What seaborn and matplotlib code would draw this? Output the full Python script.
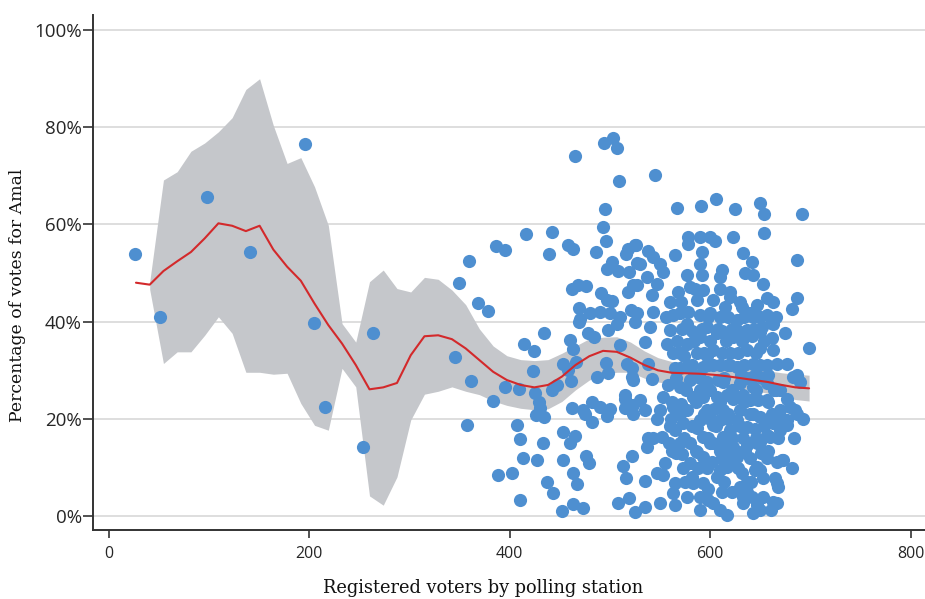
import matplotlib
matplotlib.use("Agg")
import numpy as np
import matplotlib.pyplot as plt
import seaborn as sns

sns.set_theme(style="white")

# registered voters (x) and % of votes for Amal (y)
voters = [
    26.4, 51.7, 98.5, 140.8, 195.7, 204.6, 215.9, 253.8, 263.8, 345.6,
    465.3, 494.2, 502.8, 506.8, 509.4, 495.5, 493.5, 495.8, 518.4, 525.1,
    516.1, 527.4, 485.9, 502.4, 496.9, 508.4, 519.4, 523.4, 518.4, 416.4,
    442.6, 386.5, 395.4, 359.8, 349.9, 368.2, 378.2, 458.0, 463.6, 439.6,
    462.0, 468.5, 475.9, 491.2, 496.9, 502.4, 468.9, 480.2, 490.2, 500.2,
    510.1, 521.1, 470.2,
    434.6, 414.7, 424.4, 460.3, 463.6, 469.6, 478.5, 484.2, 498.5, 506.8,
    510.1, 361.5, 395.7, 409.7, 383.8, 423.7, 453.0, 466.2, 458.6, 460.9,
    495.8, 486.9, 498.5, 521.8, 522.8, 447.0, 442.0, 425.4, 429.6, 430.3,
    426.1, 434.3, 462.0, 473.5, 481.9, 490.2, 500.2, 496.9, 481.9, 475.2,
    515.1, 523.4, 523.4, 357.8, 407.7, 410.4, 433.6, 453.0, 465.3, 460.3,
    413.7, 427.7, 453.6, 476.2, 479.2, 388.8, 402.7, 463.6, 467.0, 437.6,
    443.0, 410.4, 452.0, 463.0, 473.5, 521.8, 513.4, 516.1, 507.8, 519.4,
    525.1,
    545.0, 567.3, 590.9, 605.9, 624.8, 649.7, 653.7, 691.9, 653.7, 623.1,
    578.2, 589.9, 599.9, 604.9, 578.2, 526.1, 538.4, 543.3, 565.0, 591.6,
    633.1, 641.5, 686.3, 530.1, 550.0, 589.9, 611.5, 576.6, 591.6, 609.9,
    634.8, 643.1, 536.8, 553.3, 546.7, 526.8, 653.0, 656.4, 663.0, 686.3,
    681.9, 560.0, 541.7, 568.3, 580.0,
    661.4, 674.7, 698.6,
    677.0, 686.3, 689.6, 684.6, 692.3, 684.0, 681.4, 671.4, 668.0, 666.4,
    660.4, 643.1, 646.5, 653.0, 631.5, 633.1, 641.5, 644.8, 653.0, 664.7,
    656.4, 619.8, 623.1, 669.7, 676.4, 669.7, 659.7, 646.5, 634.8, 626.5,
    535.1, 550.0, 565.0, 535.1, 546.7, 553.3, 565.0, 563.3, 538.4, 536.8,
    543.3, 565.0, 573.3, 581.6, 576.6, 589.9, 598.2, 609.9, 617.1, 606.6,
    598.2, 611.5, 601.6, 609.9, 629.8, 636.5, 663.0, 666.4, 649.7, 666.4,
    646.5, 673.0,
    515.1, 521.8, 541.7, 535.1, 538.4, 516.8, 540.0, 525.1, 563.3, 515.1,
    530.1, 546.7, 535.1, 553.3, 550.0, 563.3, 551.7, 570.0, 571.7, 586.6,
    579.9, 599.9, 613.2, 623.1, 636.5, 649.7, 656.4, 676.4, 663.0, 686.3,
    679.7, 669.7, 676.4, 669.7, 682.9, 666.4, 663.0, 661.4, 663.0, 656.4,
    649.7, 649.7, 656.4, 656.4, 656.4, 649.7, 636.5, 619.8, 603.2, 586.6,
    573.3, 576.6, 583.2, 570.0, 565.0, 563.3, 556.7, 560.0, 576.6, 578.0,
    589.9, 609.9, 626.5, 643.1, 636.5, 623.1, 606.6, 589.9, 576.6, 586.6,
    603.2, 619.8, 636.5, 643.1, 626.5, 609.9, 593.2, 576.6, 579.9, 596.6,
    613.2, 629.8, 643.1, 639.8, 623.1, 606.6, 593.2, 596.6, 613.2, 629.8,
    643.1, 589.9, 609.9, 626.5, 593.2, 609.9, 593.2, 617.1, 583.2, 593.2,
    589.9, 603.2, 633.1, 649.7, 636.5,
    586.6, 603.2, 619.8, 629.8, 639.8, 569.9, 543.3, 526.8, 584.9, 609.9,
    619.8, 593.2,
    558.0, 571.0, 584.0, 597.0, 608.0, 618.0, 631.0, 645.0, 658.0, 567.0,
    582.0, 597.0, 612.0, 628.0, 642.0, 652.0, 566.0, 580.0, 597.0, 612.0,
    628.0, 640.0, 651.0, 561.0, 600.0, 618.0, 633.0, 645.0, 660.0, 574.0,
    590.0, 604.0, 617.0, 633.0, 648.0, 664.0, 603.0, 617.0, 632.0, 641.0,
    600.0, 615.0, 632.0, 647.0, 571.0, 556.0, 559.0, 555.0, 575.0, 622.0,
    614.0, 588.0, 603.0, 640.0, 570.0,
    562.0, 586.0, 610.0, 634.0, 658.0, 574.0, 598.0, 622.0, 646.0, 668.0,
    560.0, 582.0, 606.0, 630.0, 654.0, 570.0, 594.0, 618.0, 640.0, 662.0,
    562.0, 586.0, 610.0, 634.0, 658.0, 576.0, 600.0, 622.0, 646.0, 666.0,
    566.0, 590.0, 614.0, 636.0, 652.0, 582.0, 598.0, 620.0, 634.0, 650.0,
    570.0, 594.0, 612.0, 628.0, 646.0, 584.0, 600.0, 616.0, 632.0, 654.0,
    572.0, 592.0, 608.0, 622.0, 644.0, 598.0, 618.0, 634.0, 650.0, 666.0,
]
amal_pct = [
    53.9, 40.9, 65.6, 54.3, 76.5, 39.8, 22.5, 14.3, 37.7, 32.8,
    74.0, 76.7, 77.8, 75.6, 68.9, 63.2, 59.5, 56.6, 55.0, 55.7,
    54.0, 52.1, 54.3, 52.3, 50.8, 50.4, 50.2, 47.5, 46.0, 58.0,
    58.4, 55.6, 54.8, 52.5, 47.9, 43.9, 42.2, 55.7, 55.0, 53.9,
    46.8, 47.5, 47.4, 45.9, 44.4, 44.3, 42.8, 41.7, 42.0, 41.7,
    41.0, 42.4, 40.5,
    37.6, 35.5, 34.0, 36.3, 34.3, 40.0, 37.7, 36.9, 38.3, 39.6,
    35.2, 27.8, 26.6, 26.1, 23.7, 29.8, 31.3, 31.7, 30.0, 27.8,
    31.5, 28.7, 29.5, 30.4, 28.0, 27.0, 25.9, 25.3, 23.5, 22.2,
    20.8, 20.5, 22.2, 21.8, 23.5, 22.5, 22.0, 20.6, 19.4, 21.1,
    24.2, 22.9, 21.1, 18.7, 18.7, 15.9, 15.0, 17.4, 16.5, 15.1,
    12.0, 11.6, 11.6, 12.4, 10.9, 8.6, 9.0, 9.0, 6.6, 7.1,
    4.8, 3.3, 1.1, 2.5, 1.8, 12.4, 10.3, 7.8, 2.8, 3.8,
    0.8,
    70.2, 63.4, 63.8, 65.1, 63.2, 64.3, 62.1, 62.1, 58.2, 57.3,
    57.3, 57.4, 57.4, 56.6, 56.0, 55.7, 54.5, 53.3, 53.7, 54.3,
    54.1, 52.3, 52.6, 51.9, 51.9, 51.9, 50.6, 49.6, 49.6, 49.2,
    49.9, 49.6, 49.1, 50.2, 47.8, 47.5, 47.7, 44.8, 44.1, 44.8,
    42.5, 44.1, 45.4, 46.1, 47.1,
    39.8, 37.6, 34.6,
    31.4, 29.0, 27.6, 21.8, 19.9, 16.0, 9.9, 11.6, 6.0, 2.8,
    1.3, 0.6, 2.3, 4.0, 5.7, 4.0, 4.0, 9.5, 7.8, 7.8,
    11.9, 11.6, 12.9, 20.5, 19.8, 17.7, 16.3, 15.0, 13.6, 12.2,
    2.0, 2.8, 2.3, 7.3, 9.0, 8.5, 6.8, 4.7, 16.0, 14.3,
    16.0, 17.7, 9.9, 8.1, 4.0, 1.3, 3.3, 1.3, 0.2, 8.1,
    5.7, 5.1, 11.2, 9.5, 6.1, 5.1, 3.0, 6.8, 9.5, 11.2,
    10.2, 11.6,
    22.2, 28.7, 28.3, 35.9, 31.4, 31.4, 38.9, 40.0, 41.3, 24.9,
    23.9, 20.1, 21.8, 24.6, 21.8, 22.5, 16.3, 15.0, 12.9, 13.3,
    15.0, 15.0, 16.3, 14.3, 14.6, 15.3, 16.7, 18.7, 19.1, 21.1,
    22.5, 21.8, 24.2, 25.9, 28.7, 31.4, 34.1, 36.6, 39.6, 41.3,
    37.9, 34.5, 31.1, 27.3, 23.9, 20.5, 18.4, 17.7, 18.7, 18.1,
    19.1, 21.8, 24.6, 26.6, 30.4, 33.5, 35.5, 38.3, 39.6, 42.0,
    41.3, 41.0, 40.3, 41.0, 38.3, 36.9, 37.6, 36.9, 35.5, 33.5,
    34.1, 33.5, 34.1, 31.4, 30.7, 31.1, 30.7, 30.7, 28.0, 27.6,
    27.6, 27.3, 26.6, 23.9, 24.2, 24.6, 24.6, 21.8, 21.8, 21.8,
    21.1, 19.8, 19.8, 19.8, 16.3, 14.3, 12.2, 10.2, 6.8, 6.8,
    4.0, 2.7, 2.7, 1.3, 7.1,
    44.4, 44.4, 45.1, 44.1, 41.7, 41.7, 42.0, 41.7, 46.8, 46.8,
    46.1, 46.5,
    27.0, 23.0, 29.0, 33.0, 28.0, 31.0, 29.0, 29.0, 29.0, 36.0,
    38.0, 39.0, 38.0, 38.0, 37.0, 39.0, 13.0, 11.0, 10.0, 12.0,
    10.0, 12.0, 13.0, 20.0, 20.0, 20.0, 16.0, 18.0, 20.0, 33.0,
    26.0, 22.0, 25.0, 25.0, 24.0, 26.0, 15.0, 14.0, 9.0, 7.0,
    41.8, 43.0, 43.0, 43.5, 44.0, 41.0, 15.0, 11.0, 7.0, 5.0,
    7.0, 10.0, 31.0, 28.5, 30.5,
    13.5, 13.5, 13.5, 13.5, 13.5, 16.0, 16.0, 16.0, 16.0, 16.0,
    18.5, 18.5, 18.5, 18.5, 18.5, 21.0, 21.0, 21.0, 21.0, 21.0,
    23.5, 23.5, 23.5, 23.5, 23.5, 26.0, 26.0, 26.0, 26.0, 26.0,
    28.5, 28.5, 28.5, 28.5, 28.5, 31.0, 31.0, 31.0, 31.0, 31.0,
    33.5, 33.5, 33.5, 33.5, 33.5, 36.0, 36.0, 36.0, 36.0, 36.0,
    38.5, 38.5, 38.5, 38.5, 38.5, 41.0, 41.0, 41.0, 41.0, 41.0,
]

# local polynomial fit and its confidence band
fit_x = [
    27.4, 41.1, 54.8, 68.5, 82.2, 95.9, 109.6, 123.3, 137.0, 150.7,
    164.4, 178.1, 191.8, 205.5, 219.2, 232.9, 246.6, 260.3, 274.0, 287.7,
    301.4, 315.1, 328.8, 342.5, 356.2, 369.9, 383.6, 397.3, 411.0, 424.7,
    438.4, 452.1, 465.8, 479.5, 493.2, 506.9, 520.6, 534.3, 548.0, 561.7,
    575.4, 589.1, 602.8, 616.5, 630.2, 643.9, 657.6, 671.3, 685.0, 698.7,
]
fit_y = [
    48.0, 47.6, 50.4, 52.4, 54.3, 57.1, 60.2, 59.7, 58.6, 59.7,
    54.8, 51.3, 48.4, 43.7, 39.3, 35.5, 31.1, 26.1, 26.5, 27.4,
    33.1, 37.0, 37.2, 36.4, 34.5, 32.1, 29.7, 28.0, 27.0, 26.5,
    27.0, 28.7, 31.1, 32.9, 34.0, 33.8, 32.6, 31.1, 30.0, 29.5,
    29.4, 29.3, 29.1, 28.8, 28.4, 28.0, 27.6, 27.0, 26.5, 26.3,
]
fit_hi = [
    np.nan, 48.2, 69.1, 70.8, 75.0, 76.7, 79.0, 81.9, 87.7, 89.9,
    80.3, 72.5, 73.7, 67.7, 59.8, 39.6, 35.8, 48.2, 50.6, 46.8,
    46.1, 49.1, 48.7, 46.5, 43.5, 38.5, 35.0, 33.0, 32.2, 32.0,
    32.2, 33.5, 35.0, 36.5, 36.8, 36.9, 35.8, 34.0, 32.6, 31.8,
    31.4, 31.2, 31.0, 30.8, 30.5, 30.2, 29.9, 29.5, 29.2, 29.0,
]
fit_lo = [
    np.nan, 46.6, 31.4, 33.8, 33.8, 37.2, 41.0, 37.6, 29.6, 29.6,
    29.2, 29.4, 23.2, 18.7, 17.7, 30.4, 26.6, 4.2, 2.3, 8.1,
    19.8, 25.1, 25.7, 26.6, 25.7, 25.0, 23.7, 22.8, 22.2, 21.9,
    22.1, 23.6, 26.0, 28.0, 29.2, 29.6, 29.6, 28.4, 27.6, 27.2,
    27.4, 27.4, 27.2, 26.8, 26.3, 25.8, 25.3, 24.6, 24.0, 23.7,
]

x_ticks = [0, 200, 400, 600, 800]
y_ticks = [0, 20, 40, 60, 80, 100]

fig = plt.figure(figsize=(9.25, 5.99), dpi=100)
ax = fig.add_axes([0.1005, 0.1152, 0.8995, 0.8598])

ax.fill_between(fit_x, fit_lo, fit_hi, color="#c5c7cb", lw=0, zorder=1)
sns.scatterplot(x=voters, y=amal_pct, s=90, color="#4e8fd0", linewidth=0,
                alpha=1, ax=ax, zorder=3)
sns.lineplot(x=fit_x, y=fit_y, color="#d3292b", lw=1.5, errorbar=None,
             ax=ax, zorder=4)

ax.set_xlim(-15.5, 814.3)
ax.set_ylim(-2.8, 103)
ax.set_xticks(x_ticks)
ax.set_yticks(y_ticks)
ax.set_xticklabels([str(t) for t in x_ticks], fontsize=11.5, family="Open Sans")
ax.set_yticklabels([f"{t}%" for t in y_ticks], fontsize=13.5, family="Open Sans")

ax.grid(axis="y", color="#d4d4d4", lw=1.1)
ax.grid(axis="x", visible=False)
ax.set_axisbelow(True)

for side in ["top", "right"]:
    ax.spines[side].set_visible(False)
for side in ["left", "bottom"]:
    ax.spines[side].set_color("#333333")
    ax.spines[side].set_linewidth(1.4)

ax.tick_params(axis="x", direction="out", length=5.5, width=1.2, color="#333333",
               pad=6, bottom=True)
ax.tick_params(axis="y", direction="out", length=7, width=1.2, color="#333333",
               pad=1, left=True)

ax.set_xlabel("Registered voters by polling station", fontsize=12.8,
              family="DejaVu Serif", color="#111111")
ax.set_ylabel("Percentage of votes for Amal", fontsize=12.4,
              family="DejaVu Serif", color="#111111")
ax.xaxis.set_label_coords(0.469, -0.1126)
ax.xaxis.label.set_va("center")
ax.yaxis.set_label_coords(-0.0901, 0.4553)
ax.yaxis.label.set_va("center")

fig.savefig("out.png", dpi=100)
plt.close()
